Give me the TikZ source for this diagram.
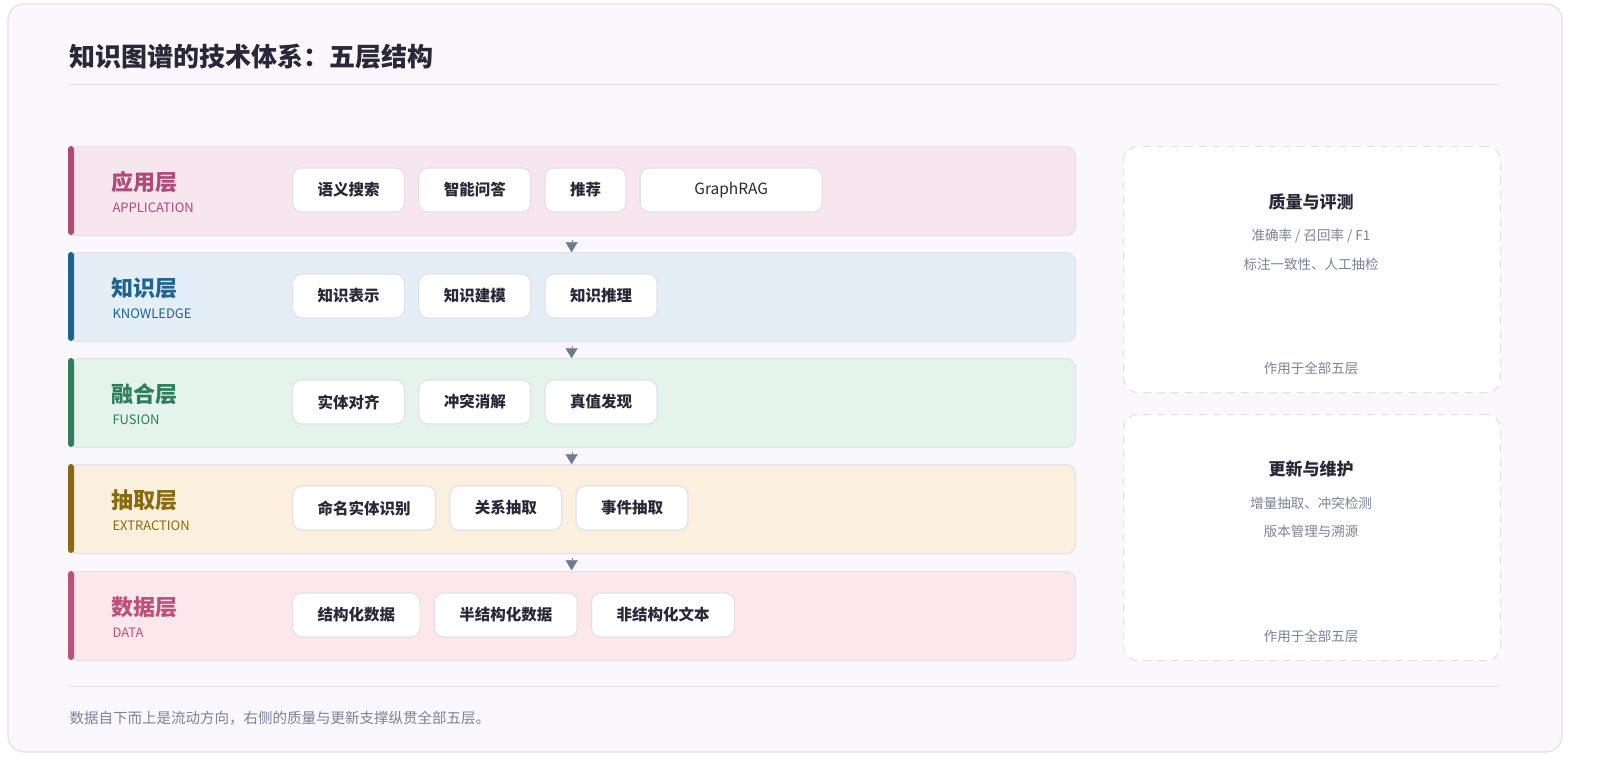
\documentclass[tikz,border=0pt]{standalone}
\usepackage{fontspec}
\setmainfont{Noto Sans CJK SC}
\usetikzlibrary{positioning, arrows.meta}
\definecolor{cardbg}{HTML}{FAF8FC}
\definecolor{cardline}{HTML}{E4E0EA}
\definecolor{ink}{HTML}{2A2838}
\definecolor{muted}{HTML}{7A8296}
\definecolor{arrowgray}{HTML}{6E7A8E}
\definecolor{appfill}{HTML}{F8E6EE}\definecolor{appacc}{HTML}{B04A78}
\definecolor{knofill}{HTML}{E3EEF7}\definecolor{knoacc}{HTML}{1F6390}
\definecolor{fusfill}{HTML}{E4F4EC}\definecolor{fusacc}{HTML}{2E7D5B}
\definecolor{extfill}{HTML}{FAF0DD}\definecolor{extacc}{HTML}{8A6A10}
\definecolor{datfill}{HTML}{FCE7EC}\definecolor{datacc}{HTML}{C0507A}
\tikzset{
  layer/.style = {draw = cardline, line width = 1.2pt, rounded corners = 10pt, minimum width = 1007pt, minimum height = 89pt, anchor = north west, inner sep = 0pt},
  chip/.style = {draw = cardline, fill = white, line width = 1.2pt, rounded corners = 9pt, minimum height = 44pt, inner xsep = 25pt, font = \fontsize{15.5pt}{18pt}\selectfont\bfseries, text = ink},
  lname/.style = {anchor = west, font = \fontsize{22pt}{26pt}\selectfont\bfseries},
  lsub/.style = {anchor = west, font = \fontsize{13pt}{16pt}\selectfont},
  side/.style = {draw = cardline, dashed, dash pattern = on 8pt off 6pt, line width = 1.2pt, rounded corners = 14pt, fill = white, minimum width = 377pt, minimum height = 246pt, anchor = north west},
  flow/.style = {draw = arrowgray, line width = 0.1pt, -{Triangle[width = 12pt, length = 10pt]}}
}
\begin{document}
\begin{tikzpicture}[x = 1pt, y = -1pt]
\useasboundingbox (0, 0) rectangle (1600, 771);
\draw [cardline, fill = cardbg, line width = 1.2pt, rounded corners = 16pt] (8, 4) rectangle (1562, 752);

\node [anchor = west, font = \fontsize{26pt}{30pt}\selectfont\bfseries, text = ink] (title) at (66, 57) {知识图谱的技术体系：五层结构};
\draw [cardline, line width = 1pt] (68, 84) -- (1500, 84);

% layers
\node [layer, fill = appfill] (app) at (68, 146) {};
\node [layer, fill = knofill] (kno) at (68, 252) {};
\node [layer, fill = fusfill] (fus) at (68, 358) {};
\node [layer, fill = extfill] (ext) at (68, 464) {};
\node [layer, fill = datfill] (dat) at (68, 571) {};
\fill [appacc, rounded corners = 3pt] (68, 146) rectangle (74, 235);
\fill [knoacc, rounded corners = 3pt] (68, 252) rectangle (74, 341);
\fill [fusacc, rounded corners = 3pt] (68, 358) rectangle (74, 447);
\fill [extacc, rounded corners = 3pt] (68, 464) rectangle (74, 553);
\fill [datacc, rounded corners = 3pt] (68, 571) rectangle (74, 660);

\node [lname, text = appacc] (appname) at (108, 182) {应用层};
\node [lsub, text = appacc] (appsub) at (109, 208) {APPLICATION};
\node [lname, text = knoacc] (knoname) at (108, 288) {知识层};
\node [lsub, text = knoacc] (knosub) at (109, 314) {KNOWLEDGE};
\node [lname, text = fusacc] (fusname) at (108, 394) {融合层};
\node [lsub, text = fusacc] (fussub) at (109, 420) {FUSION};
\node [lname, text = extacc] (extname) at (108, 500) {抽取层};
\node [lsub, text = extacc] (extsub) at (109, 526) {EXTRACTION};
\node [lname, text = datacc] (datname) at (108, 607) {数据层};
\node [lsub, text = datacc] (datsub) at (109, 633) {DATA};

% chips
\node [chip, anchor = west] (a1) at (292, 190) {语义搜索};
\node [chip, right = 13pt of a1] (a2) {智能问答};
\node [chip, right = 13pt of a2] (a3) {推荐};
\node [chip, right = 13pt of a3, minimum width = 182pt] (a4) {\mdseries GraphRAG};

\node [chip, anchor = west] (k1) at (292, 296) {知识表示};
\node [chip, right = 13pt of k1] (k2) {知识建模};
\node [chip, right = 13pt of k2] (k3) {知识推理};

\node [chip, anchor = west] (f1) at (292, 402) {实体对齐};
\node [chip, right = 13pt of f1] (f2) {冲突消解};
\node [chip, right = 13pt of f2] (f3) {真值发现};

\node [chip, anchor = west] (e1) at (292, 508) {命名实体识别};
\node [chip, right = 13pt of e1] (e2) {关系抽取};
\node [chip, right = 13pt of e2] (e3) {事件抽取};

\node [chip, anchor = west] (d1) at (292, 615) {结构化数据};
\node [chip, right = 13pt of d1] (d2) {半结构化数据};
\node [chip, right = 13pt of d2] (d3) {非结构化文本};

% flow marks
\draw [flow] ([xshift = -0.5pt]app.south) ++(0, 4) -- ++(0, 12);
\draw [flow] ([xshift = -0.5pt]kno.south) ++(0, 4) -- ++(0, 12);
\draw [flow] ([xshift = -0.5pt]fus.south) ++(0, 4) -- ++(0, 12);
\draw [flow] ([xshift = -0.5pt]ext.south) ++(0, 4) -- ++(0, 12);

% side panels
\node [side] (quality) at (1123, 146) {};
\node [font = \fontsize{17pt}{20pt}\selectfont\bfseries, text = ink] (qtitle) at (1311, 202) {质量与评测};
\node [font = \fontsize{13.5pt}{16pt}\selectfont, text = muted] (q1) at (1311, 236) {准确率 / 召回率 / F1};
\node [font = \fontsize{13.5pt}{16pt}\selectfont, text = muted] (q2) at (1311, 264) {标注一致性、人工抽检};
\node [font = \fontsize{13.5pt}{16pt}\selectfont, text = muted] (q3) at (1311, 368) {作用于全部五层};

\node [side] (update) at (1123, 414) {};
\node [font = \fontsize{17pt}{20pt}\selectfont\bfseries, text = ink] (utitle) at (1311, 469) {更新与维护};
\node [font = \fontsize{13.5pt}{16pt}\selectfont, text = muted] (u1) at (1311, 503) {增量抽取、冲突检测};
\node [font = \fontsize{13.5pt}{16pt}\selectfont, text = muted] (u2) at (1311, 531) {版本管理与溯源};
\node [font = \fontsize{13.5pt}{16pt}\selectfont, text = muted] (u3) at (1311, 636) {作用于全部五层};

% footer
\draw [cardline, line width = 1pt] (68, 686) -- (1500, 686);
\node [anchor = west, font = \fontsize{14.5pt}{17pt}\selectfont, text = muted] (note) at (66, 718) {数据自下而上是流动方向，右侧的质量与更新支撑纵贯全部五层。};
\end{tikzpicture}
\end{document}
